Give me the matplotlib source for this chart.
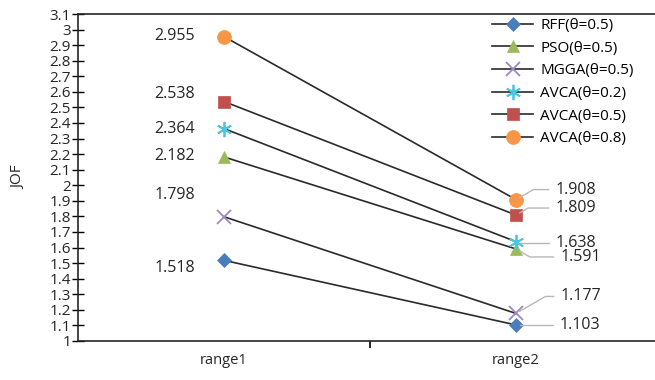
import matplotlib.pyplot as plt

categories = ["range1", "range2"]
series_names = ["RFF(θ=0.5)", "PSO(θ=0.5)", "MGGA(θ=0.5)",
                "AVCA(θ=0.2)", "AVCA(θ=0.5)", "AVCA(θ=0.8)"]
rff = [1.518, 1.103]
pso = [2.182, 1.591]
mgga = [1.798, 1.177]
avca02 = [2.364, 1.638]
avca05 = [2.538, 1.809]
avca08 = [2.955, 1.908]
yticks = [1 + 0.1 * k for k in range(22)]

colors = ["#4a7ebb", "#9bbb59", "#9c88c4", "#4bc6e0", "#c0504d", "#f79646"]
markers = ["D", "^", "x", (6, 2, 0), "s", "o"]
sizes = [7, 9, 10, 11, 9, 10]
# label offsets in pixels (range1 left, range2 right) and leader angle
off1 = [(-49, -8), (-49, 1), (-49, 22), (-49, 0), (-49, 8), (-49, 1)]
off2 = [(64, 0), (65, -8), (65, 17), (60, -1), (60, 7), (60, 10)]
ang2 = [30, -30, 30, 30, 30, 30]

plt.rcParams["font.family"] = ["Open Sans", "DejaVu Sans"]
fig = plt.figure(figsize=(6.55, 3.8), dpi=100)
ax = fig.add_axes([78 / 655, 39 / 380, 584 / 655, 327 / 380])

x = [0, 1]
all_series = [rff, pso, mgga, avca02, avca05, avca08]
for i, vals in enumerate(all_series):
    thin = markers[i] == "x" or isinstance(markers[i], tuple)
    ax.plot(x, vals, color="#2a2a2a", lw=1.2, marker=markers[i],
            markersize=sizes[i], markerfacecolor=colors[i],
            markeredgecolor=colors[i], markeredgewidth=1.3 if thin else 0.5,
            label=series_names[i], zorder=3)
    ax.annotate(f"{vals[0]:.3f}", (0, vals[0]), xytext=off1[i],
                textcoords="offset pixels", ha="center", va="center", fontsize=11.5,
                color="#262626")
    ax.annotate(f"{vals[1]:.3f}", (1, vals[1]), xytext=off2[i],
                textcoords="offset pixels", ha="center", va="center", fontsize=11.5,
                color="#262626",
                arrowprops=dict(arrowstyle="-", color="#b8b8b8", lw=1,
                                shrinkA=3, shrinkB=3,
                                connectionstyle=f"angle,angleA=0,angleB={ang2[i]},rad=0"))

ax.set_xlim(-0.5, 1.5)
ax.set_ylim(1, 3.1)
ax.set_yticks(yticks)
ax.set_yticklabels([f"{v:g}" for v in yticks], fontsize=11, color="#262626")
ax.set_xticks(x)
ax.set_xticklabels(categories, fontsize=10.5, color="#262626")
ax.tick_params(axis="x", length=0, pad=9)
ax.set_xticks([0.5], minor=True)
ax.tick_params(axis="x", which="minor", length=5, direction="out", width=1.2)
ax.tick_params(axis="y", direction="inout", length=8, width=1.0, pad=1)
ax.set_ylabel("JOF", fontsize=11, color="#262626")
ax.yaxis.set_label_coords(-(78 - 26) / 584, 0.5)

for s in ["left", "bottom", "top"]:
    ax.spines[s].set_color("#262626")
    ax.spines[s].set_linewidth(1.2)
ax.spines["right"].set_visible(False)

leg = ax.legend(loc="upper left", bbox_to_anchor=(492 / 655, (380 - 18) / 380),
                bbox_transform=fig.transFigure, frameon=False, fontsize=11,
                handlelength=2.7, labelspacing=0.5, handletextpad=0.45,
                borderaxespad=0, borderpad=0)

fig.savefig("out.png", dpi=100)
